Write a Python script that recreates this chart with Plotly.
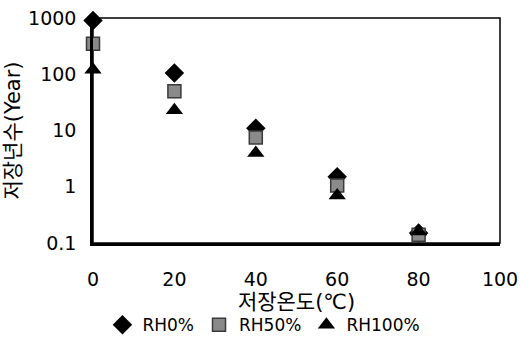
import plotly.graph_objects as go

# Storage temperature (°C) and estimated storage life (years) per relative humidity
temps = [0, 20, 40, 60, 80]
life_rh0 = [900, 105, 11, 1.5, 0.15]
life_rh50 = [350, 50, 7.5, 1.05, 0.14]
life_rh100 = [120, 23, 4, 0.7, 0.16]

x_ticks = [0, 20, 40, 60, 80, 100]
y_ticks = [0.1, 1, 10, 100, 1000]
y_tick_text = ["0.1", "1", "10", "100", "1000"]

FONT = "DejaVu Sans, Noto Sans CJK KR, sans-serif"

fig = go.Figure()
fig.add_trace(go.Scatter(
    x=temps, y=life_rh0, mode="markers", name="RH0%",
    marker=dict(symbol="diamond", size=15, color="black"),
    cliponaxis=False,
))
fig.add_trace(go.Scatter(
    x=temps, y=life_rh50, mode="markers", name="RH50%",
    marker=dict(symbol="square", size=13, color="#8a8a8a",
                line=dict(color="#3a3a3a", width=1.5)),
    cliponaxis=False,
))
fig.add_trace(go.Scatter(
    x=temps, y=life_rh100, mode="markers", name="RH100%",
    marker=dict(symbol="triangle-up", size=15, color="black"),
    cliponaxis=False,
))

fig.update_layout(
    width=521, height=345,
    margin=dict(l=93, r=21, t=18, b=102, autoexpand=False),
    paper_bgcolor="white", plot_bgcolor="white",
    font=dict(family=FONT, size=19, color="black"),
    showlegend=True,
    legend=dict(
        orientation="h", x=0.42, xanchor="center", y=-0.365, yanchor="middle",
        font=dict(size=17), itemwidth=30, tracegroupgap=0,
        bgcolor="rgba(0,0,0,0)",
    ),
    xaxis=dict(
        range=[0, 100], tickvals=x_ticks, showgrid=False, zeroline=False,
        automargin=False,
        showline=True, linecolor="black", linewidth=2.5,
        ticks="outside", ticklen=17, tickcolor="rgba(0,0,0,0)",
        title=dict(text="저장온도(℃)", standoff=0, font=dict(size=21)),
    ),
    yaxis=dict(
        type="log", range=[-1, 3], tickvals=y_ticks, ticktext=y_tick_text,
        showgrid=False, zeroline=False, automargin=False,
        showline=True, linecolor="black", linewidth=2.5,
        ticks="outside", ticklen=10, tickcolor="rgba(0,0,0,0)",
        title=dict(text="저장년수(Year)", standoff=2, font=dict(size=21)),
    ),
    shapes=[dict(type="rect", xref="paper", yref="paper", x0=0, y0=0, x1=1, y1=1,
                 line=dict(color="black", width=1.5), layer="below")],
)

fig.write_html("out.html")
